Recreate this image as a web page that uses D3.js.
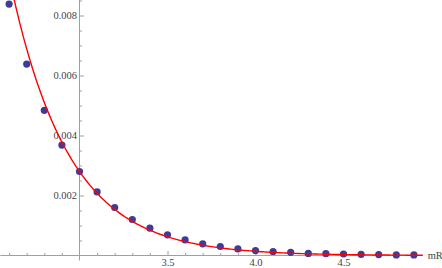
<!DOCTYPE html>
<html><head><meta charset="utf-8">
<script src="https://cdn.jsdelivr.net/npm/d3@7"></script>
<style>
html,body{margin:0;padding:0;background:#fff;}
svg{display:block;}
text{font-family:"Liberation Serif","DejaVu Serif",serif;font-size:10.5px;fill:#444;}
</style></head>
<body>
<svg id="chart" width="442" height="268"></svg>
<script>
// data
const mR = [2.6,2.7,2.8,2.9,3.0,3.1,3.2,3.3,3.4,3.5,3.6,3.7,3.8,3.9,4.0,4.1,4.2,4.3,4.4,4.5,4.6,4.7,4.8,4.9];
const values = [0.00838,0.00638,0.00484,0.00368,0.00280,0.00212,0.00160,0.00120,0.00091,0.00069,0.00052,0.00039,0.00030,0.00022,0.000165,0.000133,0.000105,0.00007,0.00006,0.00005,0.00004,0.00003,0.00002,0.00002];
// fitted model curve: A * exp(-k (x - x0))
const fitA = 0.0028, fitK = 3.0, fitX0 = 3.0;
const xMajorTicks = [3.5, 4.0, 4.5];
const xMinorTicks = [2.6,2.7,2.8,2.9,3.1,3.2,3.3,3.4,3.6,3.7,3.8,3.9,4.1,4.2,4.3,4.4,4.6,4.7,4.8,4.9];
const yMajorTicks = [0.002, 0.004, 0.006, 0.008];
const yMinorTicks = [0.0005,0.001,0.0015,0.0025,0.003,0.0035,0.0045,0.005,0.0055,0.0065,0.007,0.0075,0.0085];
const xLabel = "mR";

const svg = d3.select("#chart");
const x = d3.scaleLinear().domain([2.55, 4.95]).range([79.5 - 0.45*176, 79.5 + 1.95*176]);
const y = d3.scaleLinear().domain([0, 0.0085]).range([255.5, 0.5]);
const axisColor = "#a0a0a0";

// x axis (crosses at y=0)
const gx = svg.append("g").attr("transform", `translate(0,${y(0)})`);
gx.call(d3.axisBottom(x).tickValues(xMinorTicks).tickSize(-2.5).tickSizeOuter(0).tickFormat(""));
const gx2 = svg.append("g").attr("transform", `translate(0,${y(0)})`);
gx2.call(d3.axisBottom(x).tickValues(xMajorTicks).tickSize(-4.5).tickSizeOuter(0).tickPadding(3).tickFormat(d3.format(".1f")));
gx2.select(".domain").remove();
// y axis (crosses at x=3)
const gy = svg.append("g").attr("transform", `translate(${x(3)},0)`);
gy.call(d3.axisLeft(y).tickValues(yMinorTicks).tickSize(-2.5).tickSizeOuter(0).tickFormat(""));
const gy2 = svg.append("g").attr("transform", `translate(${x(3)},0)`);
gy2.call(d3.axisLeft(y).tickValues(yMajorTicks).tickSize(-4.5).tickSizeOuter(0).tickPadding(2.5).tickFormat(d3.format(".3f")));
gy2.select(".domain").remove();
gy.select(".domain").attr("d", `M0,${y(0.0085)-1}V${y(0)+5}`);
gx.select(".domain").attr("d", `M${x(2.55)},0H${x(4.95)}`);

svg.selectAll(".domain, .tick line").attr("stroke", axisColor).attr("stroke-width", 1);
svg.selectAll(".tick text").attr("fill", "#444").style("font-family", '"Liberation Serif", serif').style("font-size", "10.5px");

svg.append("text").attr("x", x(4.95) + 5).attr("y", y(0) + 3.5).text(xLabel);

// points
svg.append("g").selectAll("circle").data(mR).join("circle")
  .attr("cx", d => x(d)).attr("cy", (d, i) => y(values[i])).attr("r", 3.6)
  .attr("fill", "rgb(61,61,153)");

// fitted curve
const xs = d3.range(2.55, 4.951, 0.01);
svg.append("defs").append("clipPath").attr("id", "clip").append("rect")
  .attr("x", 0).attr("y", 0).attr("width", 442).attr("height", 268);
svg.append("path").datum(xs)
  .attr("clip-path", "url(#clip)")
  .attr("fill", "none").attr("stroke", "#ff0000").attr("stroke-width", 1.4)
  .attr("d", d3.line().x(d => x(d)).y(d => y(fitA * Math.exp(-fitK * (d - fitX0)))));
</script>
</body></html>
